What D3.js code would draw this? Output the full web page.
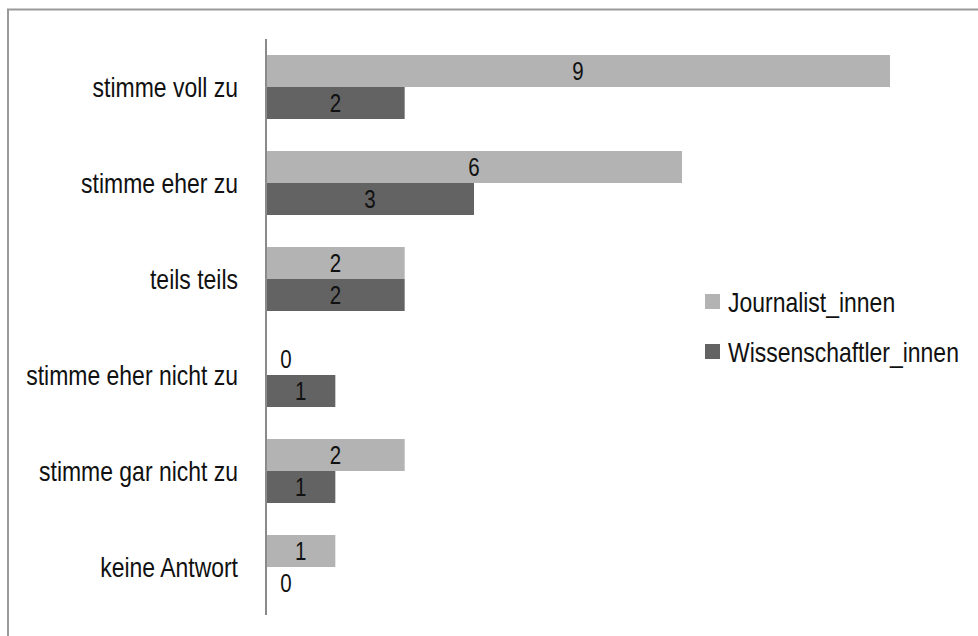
<!DOCTYPE html>
<html>
<head>
    <meta charset="utf-8" />
    <title>Zustimmung</title>
    <style>
        body {
            margin: 0;
            background: #fff;
            font-family: "Liberation Sans", Arial, sans-serif;
        }

        .cat-label {
            text-anchor: end;
            font-size: 28px;
            fill: #111;
        }

        .value-label {
            text-anchor: middle;
            font-size: 25px;
            fill: #111;
        }

        .legend-label {
            font-size: 28px;
            fill: #111;
        }
    </style>
</head>
<body>
    <script src="https://d3js.org/d3.v7.min.js"></script>
    <script>
        // Daten
        let categories = ['stimme voll zu', 'stimme eher zu', 'teils teils',
                          'stimme eher nicht zu', 'stimme gar nicht zu', 'keine Antwort']
        let seriesNames = ['Journalist_innen', 'Wissenschaftler_innen']
        let journalisten = [9, 6, 2, 0, 2, 1]
        let wissenschaftler = [2, 3, 2, 1, 1, 0]

        let colors = ['#b3b3b3', '#636363']
        let width = 978,
            height = 636,
            narrow = 0.82   // schmale Schrift nachbilden

        let rows = categories.map(function (c, i) {
            return { cat: c, values: [journalisten[i], wissenschaftler[i]] }
        })

        let svg = d3.select('body')
                    .append('svg')
                    .attr('width', width)
                    .attr('height', height)

        // Rahmen
        svg.append('rect')
            .attr('x', 8)
            .attr('y', 9.5)
            .attr('width', width)
            .attr('height', height)
            .attr('fill', 'none')
            .attr('stroke', '#9a9a9a')
            .attr('stroke-width', 2)

        let x = d3.scaleLinear()
                    .domain([0, 9])
                    .range([266, 890])

        let y = d3.scaleBand()
                    .domain(categories)
                    .range([39, 615])
                    .paddingInner(1 / 3)
                    .paddingOuter(1 / 6)

        let ySub = d3.scaleBand()
                    .domain([0, 1])
                    .range([0, y.bandwidth()])

        let groups = svg.append('g')
            .selectAll('g')
            .data(rows)
            .enter()
                .append('g')
                .attr('transform', function (d) {
                    return `translate(0, ${y(d.cat)})`
                })

        groups.selectAll('rect')
            .data(function (d) { return d.values })
            .enter()
                .append('rect')
                .attr('x', x(0))
                .attr('y', function (d, i) { return ySub(i) })
                .attr('width', function (d) { return x(d) - x(0) })
                .attr('height', ySub.bandwidth())
                .attr('fill', function (d, i) { return colors[i] })

        groups.selectAll('text')
            .data(function (d) { return d.values })
            .enter()
                .append('text')
                .classed('value-label', true)
                .attr('transform', function (d, i) {
                    let cx = Math.max((x(0) + x(d)) / 2, x(0) + 20)
                    let cy = ySub(i) + ySub.bandwidth() / 2
                    return `translate(${cx}, ${cy}) scale(${narrow}, 1)`
                })
                .attr('dy', '0.36em')
                .text(function (d) { return d })

        // Achse
        svg.append('line')
            .attr('x1', x(0))
            .attr('x2', x(0))
            .attr('y1', 39)
            .attr('y2', 615)
            .attr('stroke', '#8a8a8a')
            .attr('stroke-width', 2)

        svg.append('g')
            .selectAll('text')
            .data(categories)
            .enter()
                .append('text')
                .classed('cat-label', true)
                .attr('transform', function (d) {
                    return `translate(238, ${y(d) + y.bandwidth() / 2}) scale(${narrow}, 1)`
                })
                .attr('dy', '0.36em')
                .text(function (d) { return d })

        // Legende
        let legend = svg.append('g')
            .attr('transform', 'translate(705, 294)')
            .selectAll('g')
            .data(seriesNames)
            .enter()
                .append('g')
                .attr('transform', function (d, i) { return `translate(0, ${i * 50})` })

        legend.append('rect')
            .attr('width', 15)
            .attr('height', 15)
            .attr('fill', function (d, i) { return colors[i] })

        legend.append('text')
            .classed('legend-label', true)
            .attr('transform', `translate(23, 7.5) scale(${narrow}, 1)`)
            .attr('dy', '0.36em')
            .text(function (d) { return d })
    </script>
</body>
</html>
